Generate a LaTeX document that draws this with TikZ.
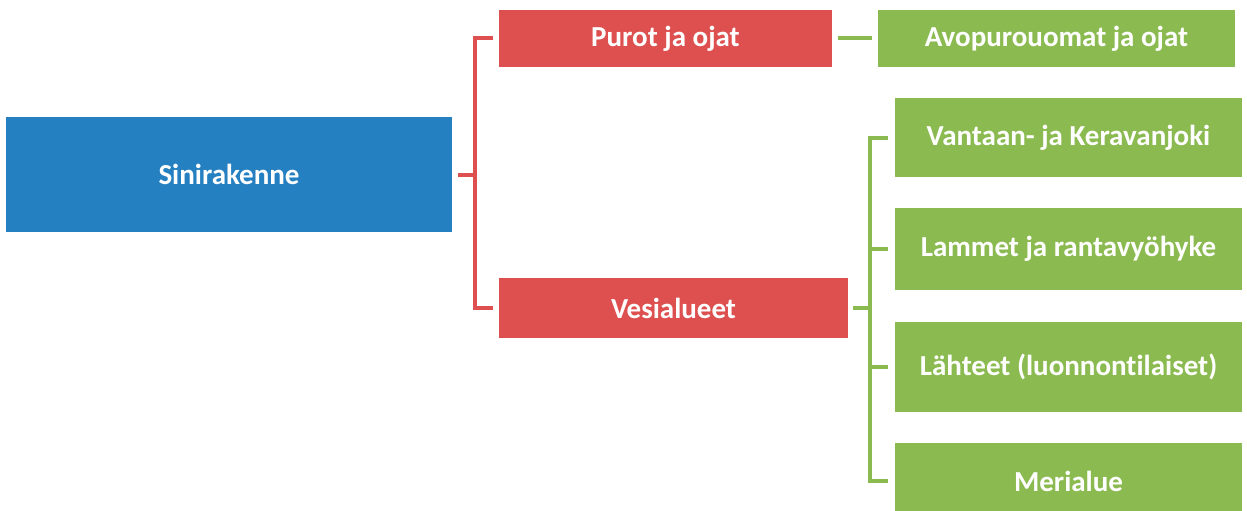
\documentclass[tikz,border=0pt]{standalone}
\usepackage{fontspec}
\setmainfont{Carlito}[Ligatures=NoCommon]
\usetikzlibrary{calc}
\definecolor{cblue}{RGB}{37,128,193}
\definecolor{cred}{RGB}{222,79,79}
\definecolor{cgreen}{RGB}{139,187,80}
\tikzset{
  box/.style={rectangle, inner sep=0pt, text=white, font=\bfseries\fontsize{29}{34}\selectfont},
  bluebox/.style={box, fill=cblue},
  redbox/.style={box, fill=cred},
  greenbox/.style={box, fill=cgreen},
  redln/.style={draw=cred, line width=4pt},
  grnln/.style={draw=cgreen, line width=4pt},
}
\begin{document}
\begin{tikzpicture}[x=1pt,y=1pt]
\useasboundingbox (0,0) rectangle (1247,-511);
\node[bluebox, minimum width=446pt, minimum height=115pt] (sin) at (229,-174.5) {Sinirakenne};
\node[redbox, minimum width=333pt, minimum height=57pt] (pur) at (665.5,-38.5) {Purot ja ojat};
\node[redbox, minimum width=349pt, minimum height=60pt] (ves) at (673.5,-308) {Vesialueet};
\node[greenbox, minimum width=357pt, minimum height=57pt] (avo) at (1056.5,-38.5) {Avopurouomat ja ojat};
\node[greenbox, minimum width=347pt, minimum height=79pt] (van) at (1068.5,-137.5) {Vantaan- ja Keravanjoki};
\node[greenbox, minimum width=347pt, minimum height=82pt] (lam) at (1068.5,-249) {Lammet ja rantavyöhyke};
\node[greenbox, minimum width=347pt, minimum height=90pt] (lah) at (1068.5,-367) {Lähteet (luonnontilaiset)};
\node[greenbox, minimum width=347pt, minimum height=76pt] (mer) at (1068.5,-481) {Merialue};
% red connectors
\draw[redln] ([xshift=-6pt]pur.west) -| ([xshift=-24pt]ves.west) -- ([xshift=-6pt]ves.west);
\draw[redln] ([xshift=6pt]sin.east) -- ([xshift=-22pt]pur.west |- sin.east);
% green connectors
\draw[grnln] ([xshift=6pt]pur.east) -- ([xshift=-6pt]avo.west);
\draw[grnln] ([xshift=-7pt]van.west) -| ([xshift=-25pt]mer.west) -- ([xshift=-7pt]mer.west);
\draw[grnln] ([xshift=-7pt]lam.west) -- ([xshift=-23pt]lam.west);
\draw[grnln] ([xshift=-7pt]lah.west) -- ([xshift=-23pt]lah.west);
\draw[grnln] ([xshift=5pt]ves.east) -- ([xshift=-23pt]lam.west |- ves.east);
\end{tikzpicture}
\end{document}
